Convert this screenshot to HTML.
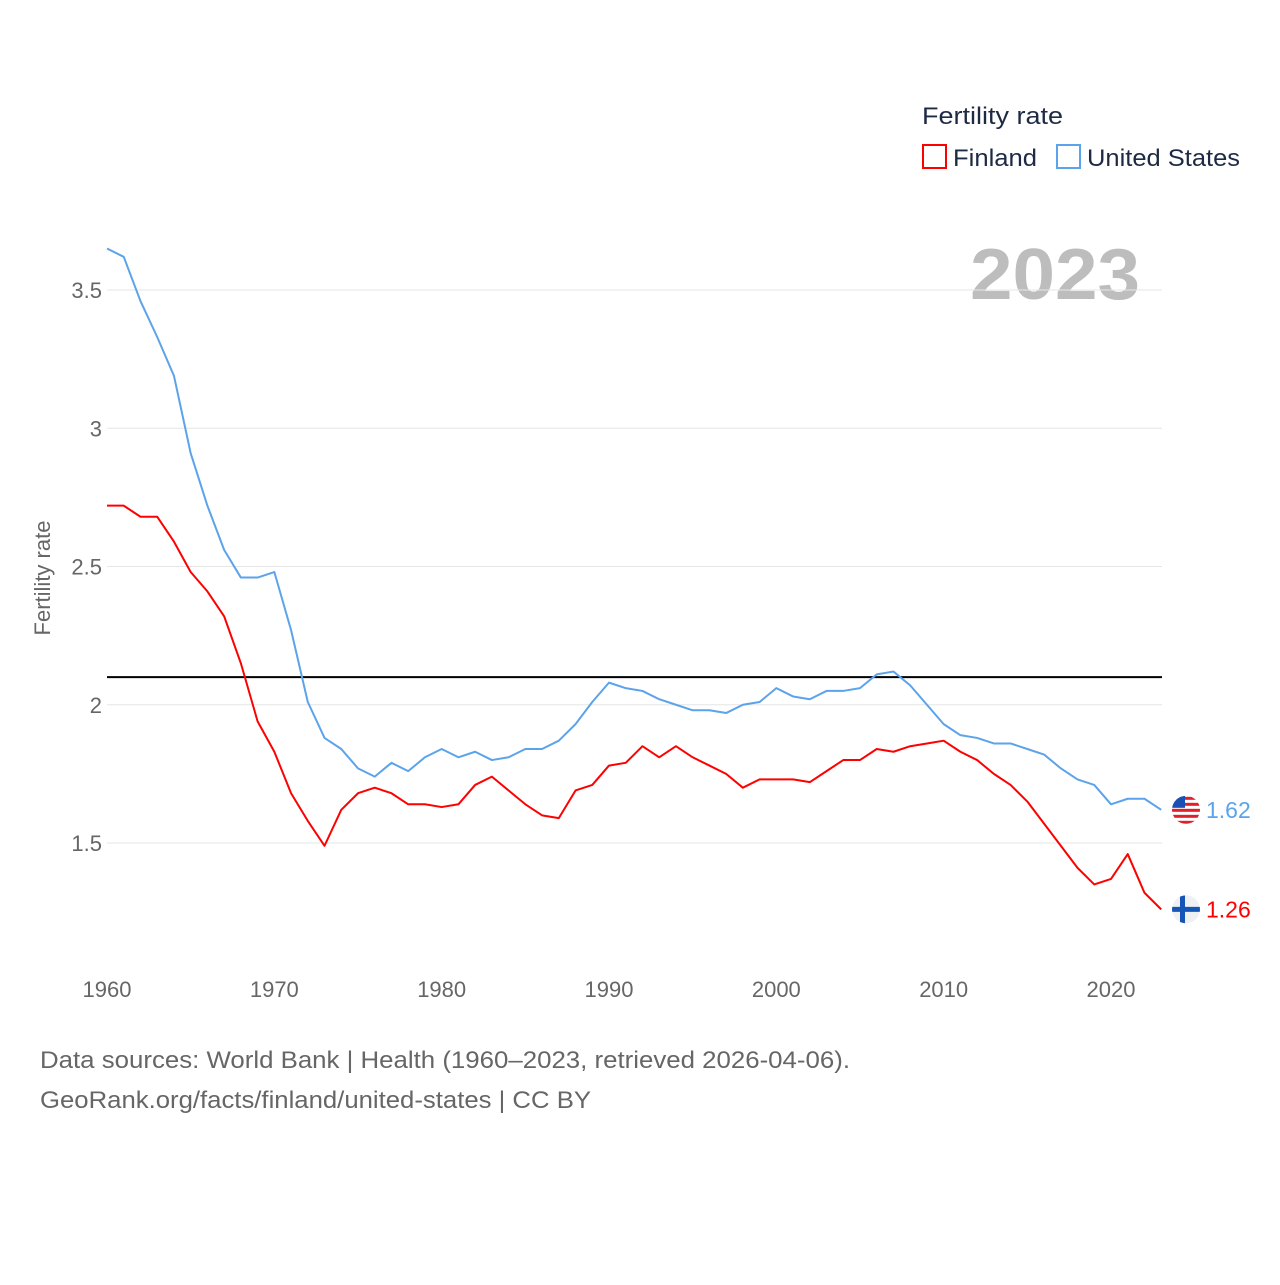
<!DOCTYPE html>
<html><head><meta charset="utf-8"><style>
body{margin:0;background:#fff;font-family:"Liberation Sans",sans-serif}
svg text{font-family:"Liberation Sans",sans-serif}
</style></head><body>
<svg id="chart" width="1280" height="1280" viewBox="0 0 1280 1280">
<defs>
<clipPath id="cUS"><circle id="cUSc" cx="1186" cy="0" r="14"/></clipPath>
<clipPath id="cFI"><circle id="cFIc" cx="1186" cy="0" r="14"/></clipPath>
</defs>
<text x="922" y="124" font-size="24" fill="#1e2a44" textLength="141" lengthAdjust="spacingAndGlyphs">Fertility rate</text>
<g><rect x="923" y="145" width="23" height="23" fill="none" stroke="#f00" stroke-width="2"/><text x="953" y="166" font-size="24" fill="#1e2a44" textLength="84" lengthAdjust="spacingAndGlyphs">Finland</text></g>
<g><rect x="1057" y="145" width="23" height="23" fill="none" stroke="#5ba3ea" stroke-width="2"/><text x="1087" y="166" font-size="24" fill="#1e2a44" textLength="153" lengthAdjust="spacingAndGlyphs">United States</text></g>
<text x="970" y="299" font-size="72" font-weight="bold" fill="#bdbdbd" textLength="170" lengthAdjust="spacingAndGlyphs">2023</text>
<text transform="translate(50,578) rotate(-90)" font-size="22" fill="#666" text-anchor="middle">Fertility rate</text>
<g id="grid"></g><g id="series"></g>
<text x="40" y="1068" font-size="24" fill="#666" textLength="810" lengthAdjust="spacingAndGlyphs">Data sources: World Bank | Health (1960–2023, retrieved 2026-04-06).</text>
<text x="40" y="1108" font-size="24" fill="#666" textLength="551" lengthAdjust="spacingAndGlyphs">GeoRank.org/facts/finland/united-states | CC BY</text>
</svg>
<script>
const years=[];for(let y=1960;y<=2023;y++)years.push(y);
const usValues=[3.65,3.62,3.46,3.33,3.19,2.91,2.72,2.56,2.46,2.46,2.48,2.27,2.01,1.88,1.84,1.77,1.74,1.79,1.76,1.81,1.84,1.81,1.83,1.80,1.81,1.84,1.84,1.87,1.93,2.01,2.08,2.06,2.05,2.02,2.00,1.98,1.98,1.97,2.00,2.01,2.06,2.03,2.02,2.05,2.05,2.06,2.11,2.12,2.07,2.00,1.93,1.89,1.88,1.86,1.86,1.84,1.82,1.77,1.73,1.71,1.64,1.66,1.66,1.62];
const finValues=[2.72,2.72,2.68,2.68,2.59,2.48,2.41,2.32,2.15,1.94,1.83,1.68,1.58,1.49,1.62,1.68,1.70,1.68,1.64,1.64,1.63,1.64,1.71,1.74,1.69,1.64,1.60,1.59,1.69,1.71,1.78,1.79,1.85,1.81,1.85,1.81,1.78,1.75,1.70,1.73,1.73,1.73,1.72,1.76,1.80,1.80,1.84,1.83,1.85,1.86,1.87,1.83,1.80,1.75,1.71,1.65,1.57,1.49,1.41,1.35,1.37,1.46,1.32,1.26];
const yTicks=[1.5,2,2.5,3,3.5];
const xTicks=[1960,1970,1980,1990,2000,2010,2020];
const replacement=2.1;
const X=y=>107+(y-1960)*(1111-107)/60;
const Y=v=>290+(3.5-v)*276.5;
const NS="http://www.w3.org/2000/svg";
const grid=document.getElementById('grid'),ser=document.getElementById('series');
function mk(tag,at,parent){const e=document.createElementNS(NS,tag);for(const k in at)e.setAttribute(k,at[k]);parent.appendChild(e);return e;}
yTicks.forEach(t=>{
 const l=mk('line',{x1:107,x2:1162,y1:Y(t),y2:Y(t),stroke:'#e6e6e6','stroke-width':1},grid);
 
 
 const tx=mk('text',{x:102,y:Y(t)+8,'font-size':22,fill:'#666','text-anchor':'end'},grid);tx.textContent=String(t);
 
 
});
xTicks.forEach(t=>{
 const tx=mk('text',{x:X(t),y:997,'font-size':22,fill:'#666','text-anchor':'middle'},grid);tx.textContent=String(t);
 
 
});
const rl=mk('line',{x1:107,x2:1162,y1:Y(replacement),y2:Y(replacement),stroke:'#000','stroke-width':2},grid);


function line(vals,color,name){
 const p=mk('polyline',{points:vals.map((v,i)=>X(years[i])+','+Y(v)).join(' '),fill:'none',stroke:color,'stroke-width':2,'stroke-linejoin':'round'},ser);
 
 
}
line(usValues,'#5ba3ea','us-line');line(finValues,'#f00','finland-line');
function endLabel(vals,color,name,flag){
 const v=vals[vals.length-1],cy=Y(v);
 const g=mk('g',{},ser);
 
 
 document.getElementById(flag==='us'?'cUSc':'cFIc').setAttribute('cy',cy);
 const f=mk('g',{'clip-path':flag==='us'?'url(#cUS)':'url(#cFI)'},g);
 mk('rect',{x:1170,y:cy-16,width:32,height:32,fill:flag==='us'?'#fff':'#eef0f4'},f);
 if(flag==='us'){for(let i=0;i<5;i++)mk('rect',{x:1170,y:cy-13+i*6,width:32,height:3,fill:'#e0202a'},f);mk('rect',{x:1170,y:cy-14,width:15,height:12,fill:'#1a4fb3'},f);}
 else{mk('rect',{x:1170,y:cy-2.5,width:32,height:5,fill:'#1455b5'},f);mk('rect',{x:1180,y:cy-16,width:5,height:32,fill:'#1455b5'},f);}
 const t=mk('text',{x:1206,y:cy+8,'font-size':23,fill:color},g);t.textContent=v.toFixed(2);
}
endLabel(usValues,'#5ba3ea','us-end-label','us');endLabel(finValues,'#f00','finland-end-label','fi');
</script>
</body></html>
